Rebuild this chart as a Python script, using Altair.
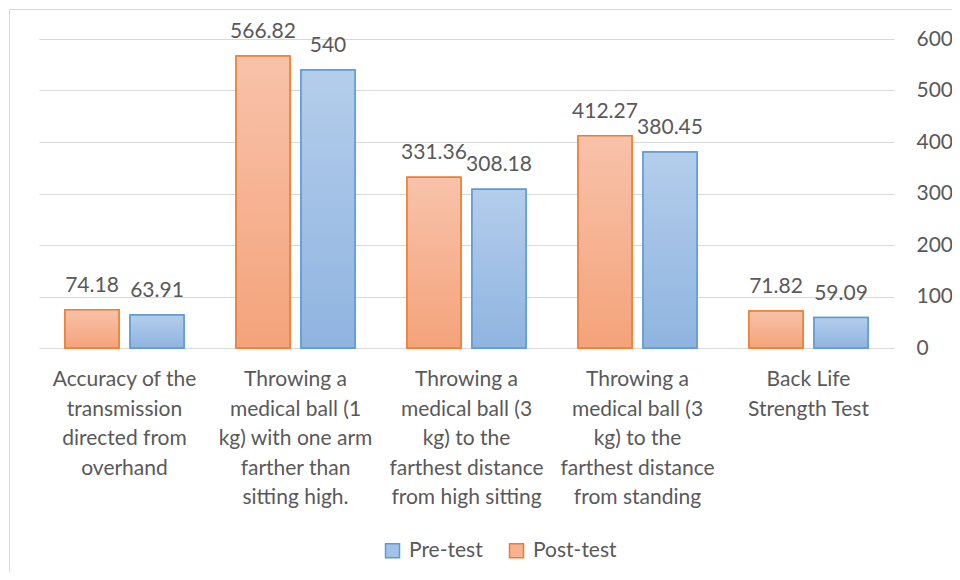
import altair as alt
import pandas as pd

categories = [
    "Accuracy of the|transmission|directed from|overhand",
    "Throwing a|medical ball (1|kg) with one arm|farther than|sitting high.",
    "Throwing a|medical ball (3|kg) to the|farthest distance|from high sitting",
    "Throwing a|medical ball (3|kg) to the|farthest distance|from standing",
    "Back Life|Strength Test",
]
legend_order = ["Pre-test", "Post-test"]
bar_order = ["Post-test", "Pre-test"]
pre_values = [63.91, 540, 308.18, 380.45, 59.09]
post_values = [74.18, 566.82, 331.36, 412.27, 71.82]
y_ticks = [0, 100, 200, 300, 400, 500, 600]

rows = []
for c, pre, post in zip(categories, pre_values, post_values):
    rows.append({"category": c, "series": "Post-test", "value": post, "label": f"{post:g}"})
    rows.append({"category": c, "series": "Pre-test", "value": pre, "label": f"{pre:g}"})
df = pd.DataFrame(rows)

FONT = "Lato"
TEXT = "#595959"
GRID = "#D9D9D9"
BLUE_STROKE = "#5B9BD5"
ORANGE_STROKE = "#ED7D31"
BLUE_MID = "#A3C1E6"
ORANGE_MID = "#F6B293"

x_enc = alt.X(
    "category:N",
    scale=alt.Scale(domain=categories, paddingInner=0, paddingOuter=0),
    axis=alt.Axis(
        title=None, labelExpr="split(datum.label, '|')", labelAngle=0,
        domain=False, ticks=False, labelPadding=20.5, labelLineHeight=29.5,
        labelBaseline="top", labelLimit=400, grid=False,
    ),
)
y_enc = alt.Y(
    "value:Q",
    scale=alt.Scale(domain=[0, 600]),
    axis=alt.Axis(
        orient="right", values=y_ticks, title=None, domain=False, ticks=False,
        labelPadding=22, grid=True, gridColor=GRID, gridWidth=1,
    ),
)
xo_enc = alt.XOffset(
    "series:N",
    scale=alt.Scale(domain=bar_order, paddingInner=0.17, paddingOuter=0.4),
)

base = alt.Chart(df)

legend_kw = dict(
    title=None, orient="none", direction="horizontal",
    legendX=343, legendY=501, symbolType="square", symbolSize=196,
    symbolStrokeWidth=1.5, labelFont=FONT, labelFontSize=21,
    labelColor=TEXT, labelOffset=6, columnPadding=23, padding=0,
)

bars = base.mark_bar(strokeWidth=1.5).encode(
    x=x_enc, y=y_enc, xOffset=xo_enc,
    color=alt.Color(
        "series:N",
        scale=alt.Scale(domain=legend_order, range=[BLUE_MID, ORANGE_MID]),
        legend=alt.Legend(**legend_kw),
    ),
    stroke=alt.Stroke(
        "series:N",
        scale=alt.Scale(domain=legend_order, range=[BLUE_STROKE, ORANGE_STROKE]),
        legend=alt.Legend(**legend_kw),
    ),
)


def grad(top, bottom):
    return alt.Gradient(
        gradient="linear",
        stops=[alt.GradientStop(offset=0, color=top), alt.GradientStop(offset=1, color=bottom)],
        x1=0, x2=0, y1=0, y2=1,
    )


post_grad = base.transform_filter(alt.datum.series == "Post-test").mark_bar(
    fill=grad("#F8C2AA", "#F4A37A"), stroke=ORANGE_STROKE, strokeWidth=1.5
).encode(x=x_enc, y=y_enc, xOffset=xo_enc)

pre_grad = base.transform_filter(alt.datum.series == "Pre-test").mark_bar(
    fill=grad("#B4CDEB", "#8FB4E0"), stroke=BLUE_STROKE, strokeWidth=1.5
).encode(x=x_enc, y=y_enc, xOffset=xo_enc)

labels = base.mark_text(
    baseline="alphabetic", dy=-18, font=FONT, fontSize=21, color=TEXT
).encode(x=x_enc, y=y_enc, xOffset=xo_enc, text="label:N")

border = alt.Chart(pd.DataFrame({"a": [0]})).mark_rect(
    filled=False, stroke=GRID, strokeWidth=1
).encode(
    x=alt.value(-29.5), x2=alt.value(2000), y=alt.value(-29.5), y2=alt.value(2000)
)

chart = alt.layer(border, bars, post_grad, pre_grad, labels).properties(
    width=855, height=309,
    padding={"left": 31, "top": 31, "right": 58, "bottom": 224},
    autosize=alt.AutoSizeParams(type="none"),
).configure_view(stroke=None).configure_axis(
    labelFont=FONT, labelFontSize=21, labelColor=TEXT
)

chart.save("out.html", embed_options={"renderer": "svg", "actions": False})
